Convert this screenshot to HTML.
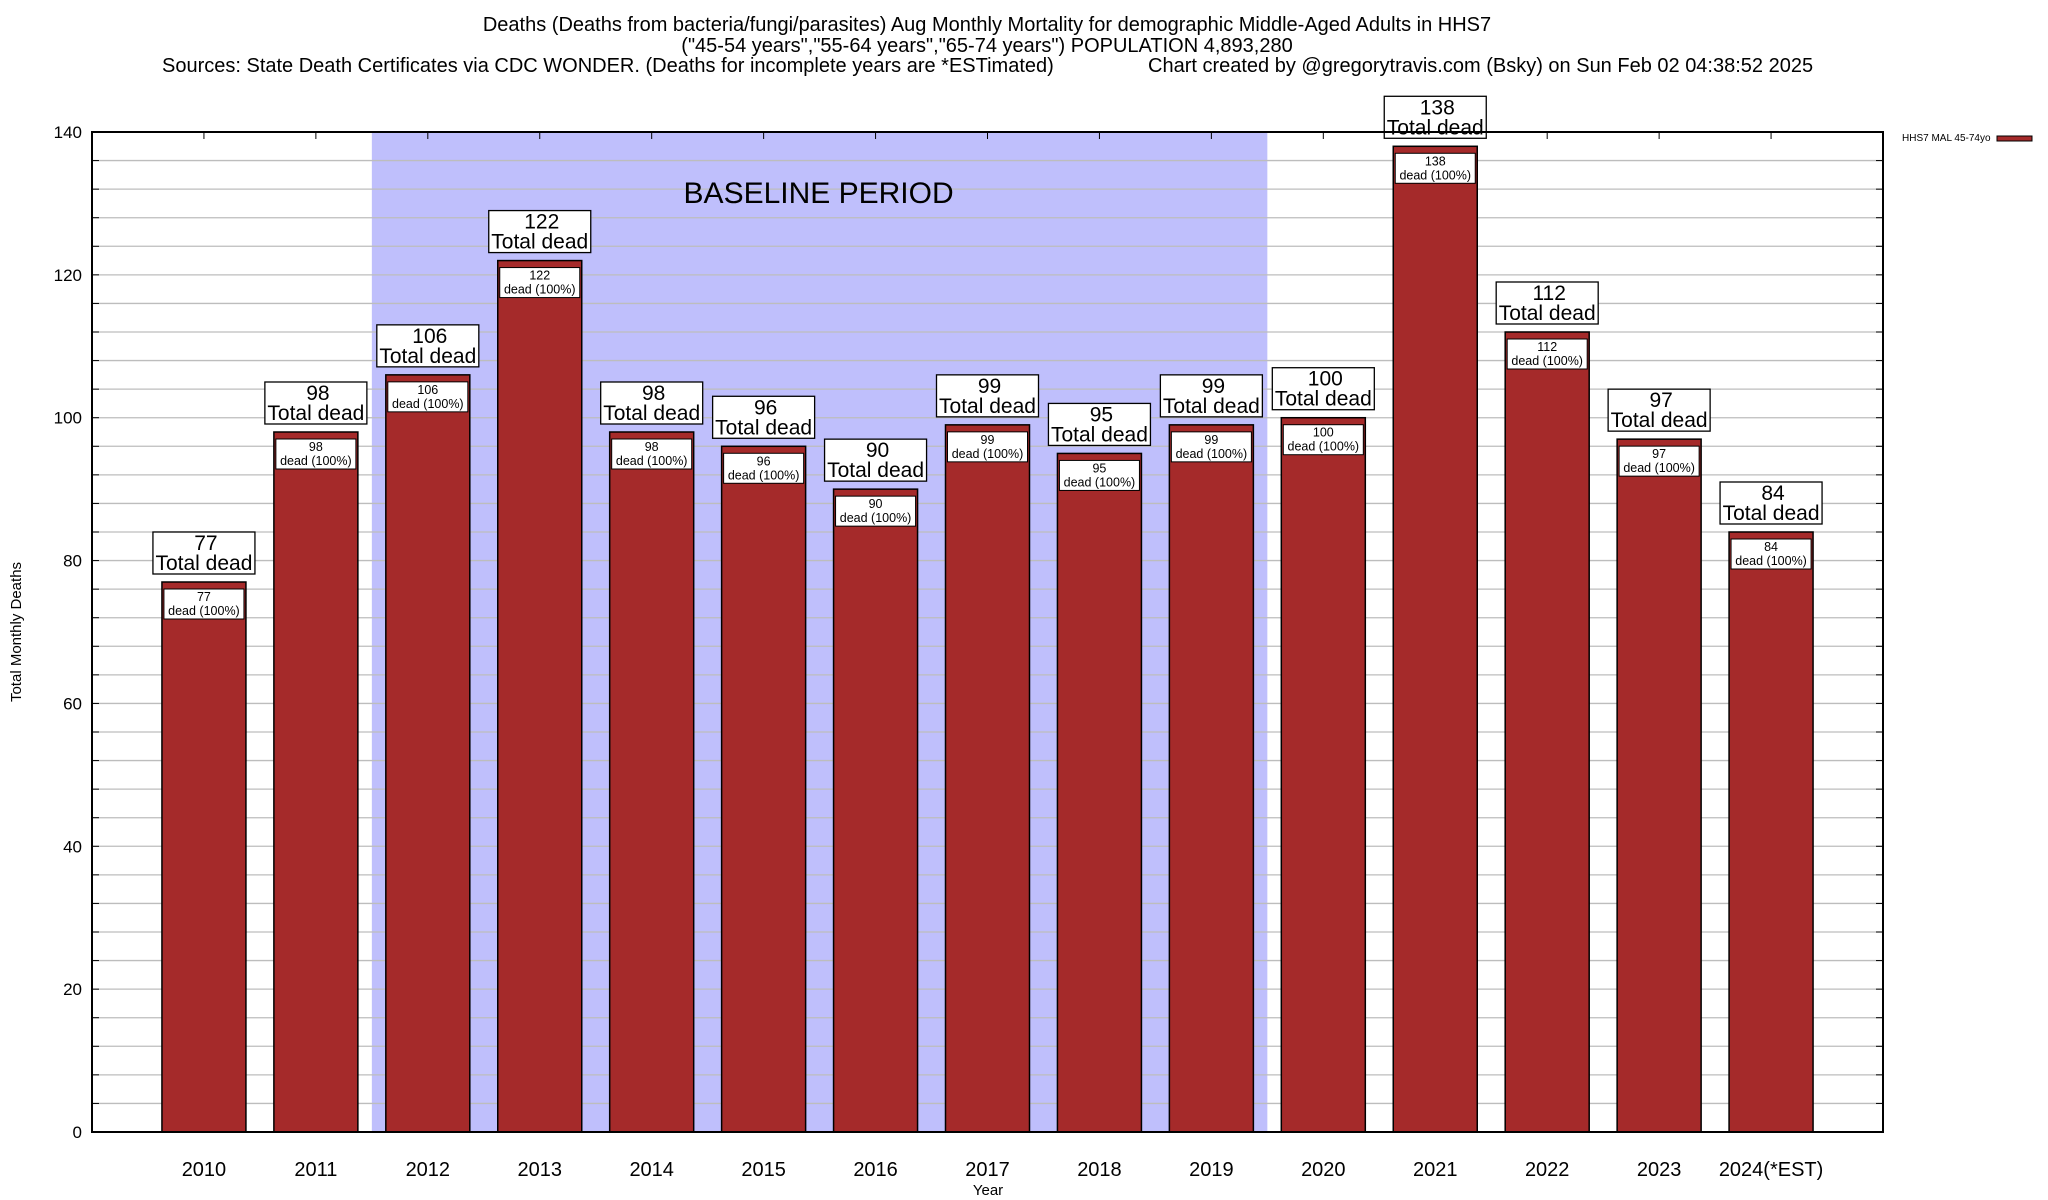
<!DOCTYPE html>
<html><head><meta charset="utf-8"><style>
body{margin:0;background:#fff;}
svg{display:block;font-family:"Liberation Sans",sans-serif;}
</style></head><body>
<svg id="c" width="2048" height="1200" xmlns="http://www.w3.org/2000/svg">
<text x="987" y="31" text-anchor="middle" font-size="20">Deaths (Deaths from bacteria/fungi/parasites) Aug Monthly Mortality for demographic Middle-Aged Adults in HHS7</text>
<text x="987" y="52" text-anchor="middle" font-size="20">("45-54 years","55-64 years","65-74 years") POPULATION 4,893,280</text>
<text x="162" y="72" font-size="20">Sources: State Death Certificates via CDC WONDER. (Deaths for incomplete years are *ESTimated)</text>
<text x="1148" y="72" font-size="20">Chart created by @gregorytravis.com (Bsky) on Sun Feb 02 04:38:52 2025</text>
<g id="plot"></g>
</svg>
<script>
const categories=["2010","2011","2012","2013","2014","2015","2016","2017","2018","2019","2020","2021","2022","2023","2024(*EST)"];
const deaths=[77,98,106,122,98,96,90,99,95,99,100,138,112,97,84];
const yTicks=[0,20,40,60,80,100,120,140];
const baselineStart=2, baselineEnd=9;
const L=92,R=1883,T=132,B=1132,YMAX=140,slot=(R-L)/16;
const NS="http://www.w3.org/2000/svg";
const g=document.getElementById('plot');
function y(v){return B-(v/YMAX)*(B-T);}
function x(i){return L+(i+1)*slot;}
function mk(t,a,txt){const e=document.createElementNS(NS,t);for(const k in a)e.setAttribute(k,a[k]);if(txt!==undefined)e.textContent=txt;g.appendChild(e);return e;}
let e;
e=mk('rect',{x:(x(baselineStart)+x(baselineStart-1))/2,y:T,width:(x(baselineEnd)+slot/2)-(x(baselineStart)+x(baselineStart-1))/2,height:B-T,fill:'#bfbffc'});


for(let v=4;v<YMAX;v+=4){
 e=mk('line',{x1:L,x2:R,y1:y(v),y2:y(v),stroke:'#bdbdbd','stroke-width':1.3});
 
 
 mk('line',{x1:L,x2:L+7,y1:y(v),y2:y(v),stroke:'#000'});
 mk('line',{x1:R-7,x2:R,y1:y(v),y2:y(v),stroke:'#000'});
}
yTicks.forEach(v=>{
 e=mk('text',{x:L-10,y:y(v)+6,'text-anchor':'end','font-size':17},String(v));
 
 
});
e=mk('text',{x:(x(baselineStart)+x(baselineEnd))/2-1,y:203,'text-anchor':'middle','font-size':30},'BASELINE PERIOD');


categories.forEach((c,i)=>{
 const cx=x(i),v=deaths[i],bw=84,top=y(v);
 mk('line',{x1:cx,x2:cx,y1:T,y2:T+7,stroke:'#000'});
 e=mk('rect',{x:cx-bw/2,y:top,width:bw,height:B-top,fill:'#a52a2a',stroke:'#000','stroke-width':1.5});
 
 
 mk('rect',{x:cx-bw/2+2,y:top+7,width:bw-4,height:30,fill:'#fff',stroke:'#000','stroke-width':1});
 e=mk('text',{x:cx,y:top+19,'text-anchor':'middle','font-size':12.5},String(v));
 
 
 mk('text',{x:cx,y:top+33,'text-anchor':'middle','font-size':12.5},'dead (100%)');
 e=mk('rect',{x:cx-51,y:top-50,width:102,height:42,fill:'#fff',stroke:'#000','stroke-width':1.3});
 
 
 e=mk('text',{x:cx+2,y:top-32,'text-anchor':'middle','font-size':21},String(v));
 
 
 mk('text',{x:cx,y:top-12,'text-anchor':'middle','font-size':21},'Total dead');
 e=mk('text',{x:cx,y:1176,'text-anchor':'middle','font-size':20},c);
 
 
});
e=mk('rect',{x:L,y:T,width:R-L,height:B-T,fill:'none',stroke:'#000','stroke-width':2});


e=mk('text',{x:0,y:0,'text-anchor':'middle','font-size':15,transform:'translate(21,632) rotate(-90)'},'Total Monthly Deaths');


e=mk('text',{x:988,y:1195,'text-anchor':'middle','font-size':15},'Year');


e=mk('text',{x:1902,y:141,'font-size':10},'HHS7 MAL 45-74yo');


e=mk('rect',{x:1997,y:136,width:35,height:5,fill:'#a52a2a',stroke:'#000','stroke-width':1});


</script>
</body></html>
